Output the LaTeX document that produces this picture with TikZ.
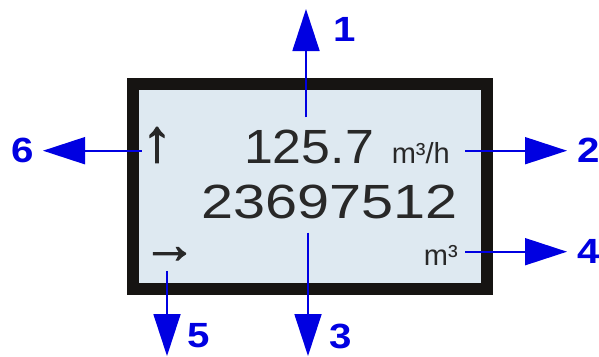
\documentclass[tikz,border=0pt]{standalone}
\usepackage{fontspec}
\setmainfont{Liberation Sans}
\newfontfamily\lcdfont[FakeStretch=1.2]{Liberation Sans}
\newfontfamily\rowfont[FakeStretch=1.08]{Liberation Sans}
\newfontfamily\numfont[FakeStretch=1.15]{Liberation Sans}
\newfontfamily\iconfont[FakeBold=2]{Liberation Sans}
\usetikzlibrary{arrows.meta,positioning}
\definecolor{lcdfill}{RGB}{222,233,241}
\definecolor{framecol}{RGB}{22,20,18}
\definecolor{digitcol}{RGB}{40,40,40}
\definecolor{callblue}{RGB}{0,0,225}

\begin{document}
\begin{tikzpicture}[x=1pt, y=-1pt, inner sep=0pt,
    callout/.style={draw=callblue, line width=1.8pt, -{Triangle[length=42pt,width=27pt]}},
    num/.style={font=\numfont\bfseries\fontsize{35}{35}\selectfont, text=callblue},
    big/.style={text=digitcol, anchor=base},
    unit/.style={font=\fontsize{29}{29}\selectfont, text=digitcol, anchor=base east},
    icon/.style={text=digitcol}]
    \useasboundingbox[fill=white] (0,0) rectangle (599,356);
    % display
    \node[draw=framecol, line width=12pt, fill=lcdfill, minimum width=354pt, minimum height=205pt] (lcd) at (310,186.5) {};
    \node[big, font=\rowfont\fontsize{48}{48}\selectfont, inner ysep=12pt] (flow) at (309,163) {125.7};
    \node[big, font=\lcdfont\fontsize{48}{48}\selectfont, inner ysep=14pt] (total) at (329.5,218) {23697512};
    \node[unit, inner xsep=15pt] (flowunit) at (465,163) {m³/h};
    \node[unit, inner xsep=7pt] (totalunit) at (465,265) {m³};
    \node[icon, font=\iconfont\fontsize{60}{60}\selectfont] (dirup) at (157,145) {↑};
    \node[icon, font=\iconfont\fontsize{54}{54}\selectfont] (dirright) at (169.5,255) {→};
    % arrow tips
    \coordinate (t1) at (306,9);
    \coordinate (t2) at (567,150.7);
    \coordinate (t3) at (308,356);
    \coordinate (t4) at (567,251.7);
    \coordinate (t5) at (167,356);
    \coordinate (t6) at (43,150.7);
    \draw[callout] (t1 |- flow.north) -- (t1);
    \draw[callout] (t2 -| flowunit.east) -- (t2);
    \draw[callout] (t3 |- total.south) -- (t3);
    \draw[callout] (t4 -| totalunit.east) -- (t4);
    \draw[callout, shorten <=8pt] (t5 |- dirright.south) -- (t5);
    \draw[callout] (t6 -| dirup.west) -- (t6);
    % labels
    \node[num, below right=8pt and 27pt of t1] (n1) {1};
    \node[num, right=10pt of t2] (n2) {2};
    \node[num, above right=7pt and 21pt of t3] (n3) {3};
    \node[num, right=10pt of t4] (n4) {4};
    \node[num, above right=8pt and 20pt of t5] (n5) {5};
    \node[num, left=9pt of t6] (n6) {6};
\end{tikzpicture}
\end{document}
